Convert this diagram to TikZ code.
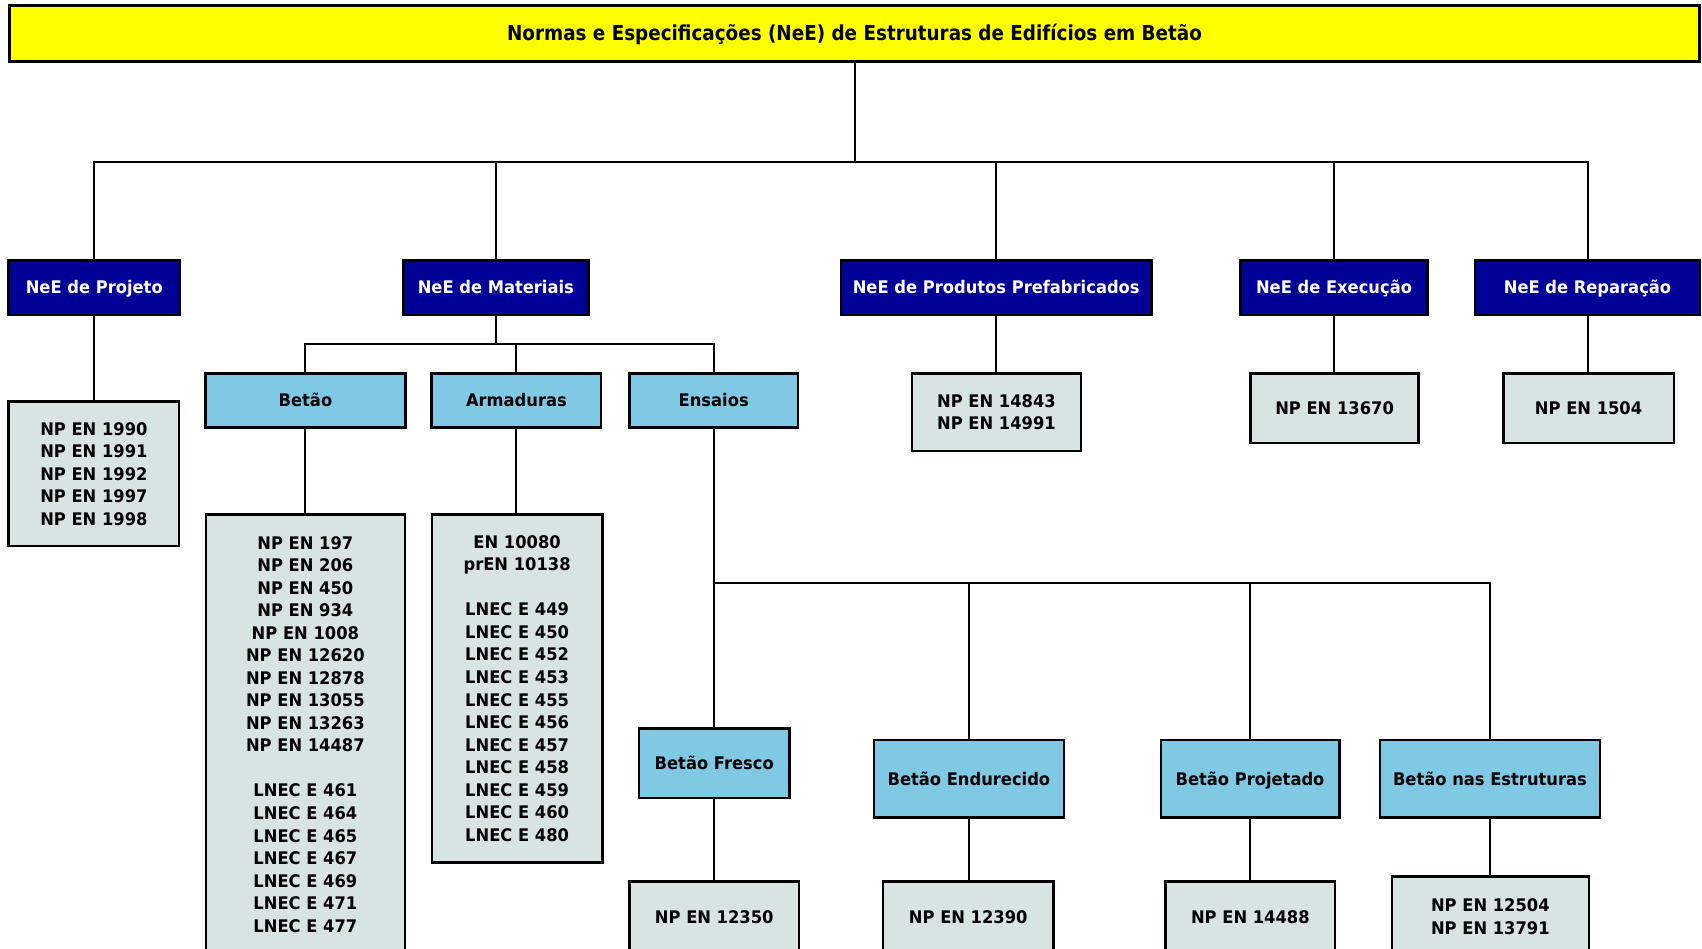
\documentclass[tikz,border=0pt]{standalone}
\usepackage{fontspec}
\newfontfamily\boxfont{DejaVu Sans}[FakeStretch=0.94]
\newfontfamily\titlefont{DejaVu Sans}[FakeStretch=0.89]
\definecolor{ttlyellow}{RGB}{255,255,0}
\definecolor{darkbox}{RGB}{0,0,150}
\definecolor{lightbox}{RGB}{128,201,228}
\definecolor{leafbox}{RGB}{216,228,228}
\def\u{0.54275pt}
\begin{document}
\begin{tikzpicture}[x=0.54275pt,y=-0.54275pt,
  base/.style={draw=black,line width=1.25pt,inner sep=0pt,align=center,
    font=\boxfont\bfseries\fontsize{8.684}{11.27}\selectfont},
  oneline/.style={text height=6.33pt,text depth=0pt},
  ttl/.style={base,fill=ttlyellow,line width=1.5pt,text height=7.5pt,text depth=0pt,
    font=\titlefont\bfseries\fontsize{10.31}{12}\selectfont},
  lvlone/.style={base,oneline,fill=darkbox,text=white},
  lvltwo/.style={base,oneline,fill=lightbox,text=black},
  leaf/.style={base,fill=leafbox,text=black},
  conn/.style={draw=black,line width=1pt}]
\useasboundingbox (0,0) rectangle (1568,874);
\clip (0,0) rectangle (1568,874);
\fill[white] (0,0) rectangle (1568,874);

% title
\node[ttl,minimum width=1557.5*\u,minimum height=52.2*\u] (title) at (787.25,30.7)
  {Normas e Especificações (NeE) de Estruturas de Edifícios em Betão};

% level one
\node[lvlone,minimum width=157.7*\u,minimum height=50*\u] (proj) at (86.85,265) {NeE de Projeto};
\node[lvlone,minimum width=170.4*\u,minimum height=50*\u] (mat) at (456.8,265) {NeE de Materiais};
\node[lvlone,minimum width=286.4*\u,minimum height=50*\u] (pref) at (917.8,265) {NeE de Produtos Prefabricados};
\node[lvlone,minimum width=172*\u,minimum height=50*\u] (exec) at (1229,265) {NeE de Execução};
\node[lvlone,minimum width=207*\u,minimum height=50*\u] (rep) at (1462.5,265) {NeE de Reparação};

% leaves of level one
\node[leaf,minimum width=157*\u,minimum height=133*\u] (projleaf) at (86.5,436.5)
  {NP EN 1990\\NP EN 1991\\NP EN 1992\\NP EN 1997\\NP EN 1998};
\node[leaf,minimum width=156*\u,minimum height=71.5*\u] (prefleaf) at (918,379.75)
  {NP EN 14843\\NP EN 14991};
\node[leaf,oneline,minimum width=155*\u,minimum height=64*\u] (execleaf) at (1229.5,376) {NP EN 13670};
\node[leaf,oneline,minimum width=157*\u,minimum height=64*\u] (repleaf) at (1463.5,376) {NP EN 1504};

% level two (materiais)
\node[lvltwo,minimum width=184*\u,minimum height=50*\u] (betao) at (281.4,369) {Betão};
\node[lvltwo,minimum width=156*\u,minimum height=50*\u] (arm) at (475.75,369) {Armaduras};
\node[lvltwo,minimum width=155*\u,minimum height=50*\u] (ens) at (657.5,369) {Ensaios};

\node[leaf,minimum width=183.4*\u,minimum height=405.4*\u] (betaoleaf) at (281.3,676.5)
  {NP EN 197\\NP EN 206\\NP EN 450\\NP EN 934\\NP EN 1008\\NP EN 12620\\NP EN 12878\\NP EN 13055\\NP EN 13263\\NP EN 14487\\[11.27pt]LNEC E 461\\LNEC E 464\\LNEC E 465\\LNEC E 467\\LNEC E 469\\LNEC E 471\\LNEC E 477};
\node[leaf,minimum width=157.2*\u,minimum height=320.9*\u] (armleaf) at (476.4,634.25)
  {EN 10080\\prEN 10138\\[11.27pt]LNEC E 449\\LNEC E 450\\LNEC E 452\\LNEC E 453\\LNEC E 455\\LNEC E 456\\LNEC E 457\\LNEC E 458\\LNEC E 459\\LNEC E 460\\LNEC E 480};

% level three (ensaios)
\node[lvltwo,minimum width=139*\u,minimum height=64*\u] (fresco) at (658,703) {Betão Fresco};
\node[lvltwo,minimum width=174.8*\u,minimum height=71.3*\u] (endur) at (892.6,717.35) {Betão Endurecido};
\node[lvltwo,minimum width=164.4*\u,minimum height=71.3*\u] (projt) at (1151.6,717.35) {Betão Projetado};
\node[lvltwo,minimum width=202.7*\u,minimum height=71.3*\u] (estr) at (1372.65,717.35) {Betão nas Estruturas};

\node[leaf,oneline,minimum width=156*\u,minimum height=64.6*\u] (frescoleaf) at (658,844.5) {NP EN 12350};
\node[leaf,oneline,minimum width=156.8*\u,minimum height=64.6*\u] (endleaf) at (892,844.5) {NP EN 12390};
\node[leaf,oneline,minimum width=156*\u,minimum height=64.6*\u] (projtleaf) at (1151.9,844.5) {NP EN 14488};
\node[leaf,minimum width=181.3*\u,minimum height=73.8*\u] (estrleaf) at (1373,844.5) {NP EN 12504\\NP EN 13791};

% connectors
\coordinate (busa) at (788,149);
\coordinate (busb) at (456.8,317);
\coordinate (busc) at (657.5,537.5);

\draw[conn] (title.south) -- (title.south |- busa);
\draw[conn] (proj.north) |- (busa) -| (rep.north);
\draw[conn] (mat.north) -- (mat.north |- busa);
\draw[conn] (pref.north) -- (pref.north |- busa);
\draw[conn] (exec.north) -- (exec.north |- busa);

\draw[conn] (proj.south) -- (proj.south |- projleaf.north);
\draw[conn] (pref.south) -- (pref.south |- prefleaf.north);
\draw[conn] (exec.south) -- (exec.south |- execleaf.north);
\draw[conn] (rep.south) -- (rep.south |- repleaf.north);

\draw[conn] (mat.south) -- (busb);
\draw[conn] (betao.north) |- (busb) -| (ens.north);
\draw[conn] (arm.north) -- (arm.north |- busb);
\draw[conn] (betao.south) -- (betao.south |- betaoleaf.north);
\draw[conn] (arm.south) -- (arm.south |- armleaf.north);

\draw[conn] (ens.south) -- (busc);
\draw[conn] (fresco.north) |- (busc) -| (estr.north);
\draw[conn] (endur.north) -- (endur.north |- busc);
\draw[conn] (projt.north) -- (projt.north |- busc);

\draw[conn] (fresco.south) -- (fresco.south |- frescoleaf.north);
\draw[conn] (endur.south) -- (endur.south |- endleaf.north);
\draw[conn] (projt.south) -- (projt.south |- projtleaf.north);
\draw[conn] (estr.south) -- (estr.south |- estrleaf.north);
\end{tikzpicture}
\end{document}
